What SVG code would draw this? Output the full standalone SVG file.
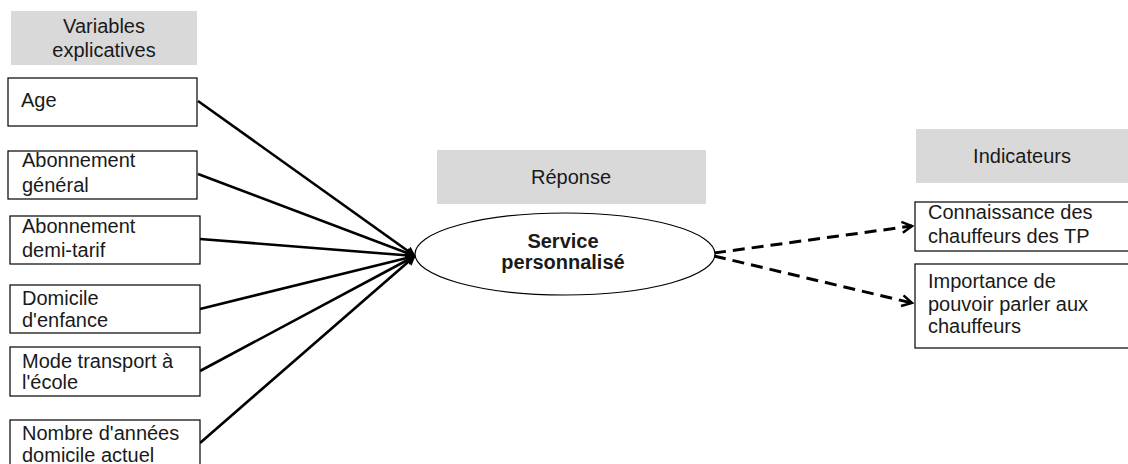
<svg xmlns="http://www.w3.org/2000/svg" width="1128" height="464" viewBox="0 0 1128 464">
<style>
text{font-family:"Liberation Sans",Arial,sans-serif;font-size:20px;fill:#1a1a1a}
.hdr{fill:#d9d9d9;stroke:none}
.box{fill:#fff;stroke:#000;stroke-width:1.2}
.c{text-anchor:middle}
.b{font-weight:bold;font-size:20px}
.solid{stroke:#000;stroke-width:2.6;fill:none}
.dash{stroke:#000;stroke-width:3;fill:none;stroke-dasharray:12 7}
</style>
<defs>
<marker id="fa" markerWidth="10" markerHeight="10" refX="9" refY="5" orient="auto" markerUnits="userSpaceOnUse" viewBox="0 0 10 10">
<path d="M0,0 L10,5 L0,10 Z" fill="#000"/>
</marker>
<marker id="oa" markerWidth="14" markerHeight="14" refX="12" refY="7" orient="auto" markerUnits="userSpaceOnUse" viewBox="0 0 14 14">
<path d="M2,1.5 L12,7 L2,12.5" fill="none" stroke="#000" stroke-width="2.5"/>
</marker>
</defs>
<g id="hdr-variables"><rect class="hdr" x="11" y="11" width="186" height="54"/><text class="c" x="104" y="33">Variables</text><text class="c" x="104" y="57">explicatives</text></g>
<g id="hdr-reponse"><rect class="hdr" x="437" y="150" width="269" height="54"/><text class="c" x="571" y="184">Réponse</text></g>
<g id="hdr-indicateurs"><rect class="hdr" x="916" y="129" width="214" height="54"/><text class="c" x="1022" y="163">Indicateurs</text></g>
<g id="connectors">
<line class="solid" x1="198" y1="101" x2="415" y2="256" marker-end="url(#fa)"/>
<line class="solid" x1="198" y1="174" x2="415" y2="256" marker-end="url(#fa)"/>
<line class="solid" x1="200" y1="239" x2="415" y2="256" marker-end="url(#fa)"/>
<line class="solid" x1="200" y1="309" x2="415" y2="256" marker-end="url(#fa)"/>
<line class="solid" x1="200" y1="371" x2="415" y2="256" marker-end="url(#fa)"/>
<line class="solid" x1="200" y1="443" x2="415" y2="256" marker-end="url(#fa)"/>
<line class="dash" x1="714" y1="253" x2="912" y2="226" marker-end="url(#oa)"/>
<line class="dash" x1="714" y1="256" x2="912" y2="303" marker-end="url(#oa)"/>
</g>
<g id="n-age"><rect class="box" x="8" y="78" width="189" height="48"/><text x="21" y="107">Age</text></g>
<g id="n-abo-gen"><rect class="box" x="8" y="151" width="189" height="48"/><text x="22" y="167">Abonnement</text><text x="22" y="192">général</text></g>
<g id="n-abo-demi"><rect class="box" x="10" y="216" width="190" height="48"/><text x="22" y="233">Abonnement</text><text x="22" y="257">demi-tarif</text></g>
<g id="n-dom-enf"><rect class="box" x="10" y="285" width="190" height="48"/><text x="22" y="305">Domicile</text><text x="22" y="327">d'enfance</text></g>
<g id="n-mode"><rect class="box" x="10" y="347" width="190" height="49"/><text x="22" y="368">Mode transport à</text><text x="22" y="389">l'école</text></g>
<g id="n-nombre"><rect class="box" x="10" y="420" width="190" height="60"/><text x="22" y="440">Nombre d'années</text><text x="22" y="462">domicile actuel</text></g>
<g id="n-service"><ellipse cx="565" cy="254" rx="150" ry="41" fill="#fff" stroke="#000" stroke-width="1.2"/><text class="c b" x="563" y="248">Service</text><text class="c b" x="563" y="269">personnalisé</text></g>
<g id="n-connaissance"><rect class="box" x="915" y="202" width="220" height="49"/><text x="928" y="219">Connaissance des</text><text x="928" y="243">chauffeurs des TP</text></g>
<g id="n-importance"><rect class="box" x="915" y="264" width="220" height="84"/><text x="928" y="288">Importance de</text><text x="928" y="311">pouvoir parler aux</text><text x="928" y="333">chauffeurs</text></g>
</svg>
